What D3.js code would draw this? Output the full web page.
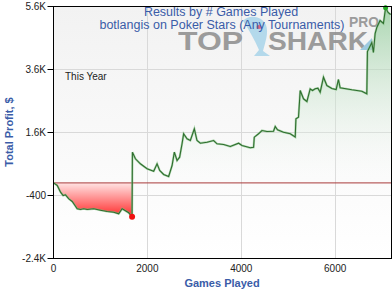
<!DOCTYPE html>
<meta charset="utf-8">
<style>
    body {
        margin: 0;
        background: #fff;
    }

    text {
        font-family: Arial, "Liberation Sans", sans-serif;
    }

    .tick-label {
        font-size: 10px;
        fill: #222;
    }

    .axis-title {
        font-size: 11px;
        font-weight: bold;
        fill: #3a5ca8;
    }

    .title {
        font-size: 12.5px;
        fill: #3a5ca8;
    }
</style>

<body>
    <script src="https://d3js.org/d3.v7.min.js"></script>

    <svg width="392" height="294"></svg>
    <script>
        // games played vs cumulative profit
        var games = [0, 80, 150, 206, 255, 326, 398, 468, 504, 574, 645, 717, 857, 1000, 1143, 1283, 1389, 1462, 1532, 1602, 1674,
            1681, 1745, 1851, 1994, 2134, 2206, 2262, 2347, 2453, 2526, 2574, 2632, 2687, 2738, 2772, 2845, 2915, 3000, 3057,
            3128, 3270, 3411, 3483, 3623, 3766, 3943, 4015, 4191, 4262, 4277, 4368, 4440, 4547, 4687, 4723, 4772, 4900, 5043,
            5149, 5164, 5219, 5255, 5326, 5398, 5468, 5517, 5574, 5632, 5681, 5751, 5823, 5930, 6021, 6070, 6106, 6355, 6568,
            6674, 6687, 6781, 6815, 6851, 6887, 6957, 7028, 7074, 7128, 7181];
        var profit = [0, -80, -295, -400, -378, -505, -590, -740, -822, -844, -822, -844, -822, -867, -908, -930, -981, -822, -886, -949, -1076,
            975, 765, 606, 448, 371, 606, 394, 267, 203, 552, 975, 711, 816, 1241, 1559, 1400, 1346, 1717, 1346,
            1260, 1292, 1346, 1241, 1219, 1156, 1260, 1187, 1114, 1133, 1451, 1559, 1663, 1632, 1641, 1790, 1686, 1610, 1559,
            1457, 2035, 2086, 2933, 2670, 2584, 2987, 2933, 2987, 3006, 2879, 3356, 3092, 2997, 2965, 3283, 3019, 2956, 2911,
            2829, 4171, 4457, 4140, 4743, 4933, 5156, 5060, 5559, 5410, 5346];

        var yTicks = [-2400, -400, 1600, 3600, 5600];
        var yTickLabels = ["-2.4K", "-400", "1.6K", "3.6K", "5.6K"];
        var xTicks = [0, 2000, 4000, 6000];
        var xTickLabels = ["0", "2000", "4000", "6000"];

        var data = games.map(function(g, i) {
            return { g: g, v: profit[i] };
        });

        var svg = d3.select("svg");
        // plot box edges (window.top is reserved, so prefix these)
        var pLeft = 53.5, pRight = 391.5, pTop = 6.5, pBottom = 258.5;

        var x = d3.scaleLinear().domain([0, 7200]).range([pLeft, pRight]);
        var y = d3.scaleLinear().domain([-2400, 5600]).range([pBottom, pTop]);

        var defs = svg.append("defs");

        var bg = defs.append("linearGradient").attr("id", "bg")
            .attr("x1", 0).attr("y1", 0).attr("x2", 0).attr("y2", 1);
        bg.append("stop").attr("offset", 0).attr("stop-color", "#f2f2f2");
        bg.append("stop").attr("offset", 1).attr("stop-color", "#ffffff");

        var green = defs.append("linearGradient").attr("id", "greenFill")
            .attr("gradientUnits", "userSpaceOnUse")
            .attr("x1", 0).attr("y1", y(5600)).attr("x2", 0).attr("y2", y(0));
        green.append("stop").attr("offset", 0).attr("stop-color", "#8fcb98").attr("stop-opacity", 0.75);
        green.append("stop").attr("offset", 1).attr("stop-color", "#ffffff").attr("stop-opacity", 0.1);

        var red = defs.append("linearGradient").attr("id", "redFill")
            .attr("gradientUnits", "userSpaceOnUse")
            .attr("x1", 0).attr("y1", y(0)).attr("x2", 0).attr("y2", y(d3.min(profit)));
        red.append("stop").attr("offset", 0).attr("stop-color", "#ffe4e4");
        red.append("stop").attr("offset", 1).attr("stop-color", "#ff2a2a");

        defs.append("clipPath").attr("id", "above").append("rect")
            .attr("x", pLeft).attr("y", pTop).attr("width", pRight - pLeft).attr("height", y(0) - pTop);
        defs.append("clipPath").attr("id", "below").append("rect")
            .attr("x", pLeft).attr("y", y(0)).attr("width", pRight - pLeft).attr("height", pBottom - y(0));

        // plot background
        svg.append("rect")
            .attr("x", pLeft).attr("y", pTop)
            .attr("width", pRight - pLeft).attr("height", pBottom - pTop)
            .attr("fill", "url(#bg)");

        // grid
        svg.selectAll(".hgrid")
            .data(yTicks.slice(1, -1))
            .enter().append("line")
            .attr("x1", pLeft).attr("x2", pRight)
            .attr("y1", function(d) { return y(d); })
            .attr("y2", function(d) { return y(d); })
            .attr("stroke", "#d9d9d9");

        svg.selectAll(".vgrid")
            .data(xTicks.slice(1))
            .enter().append("line")
            .attr("y1", pTop).attr("y2", pBottom)
            .attr("x1", function(d) { return Math.round(x(d)) + 0.5; })
            .attr("x2", function(d) { return Math.round(x(d)) + 0.5; })
            .attr("stroke", "#d9d9d9");

        // watermark
        var wm = svg.append("g").attr("opacity", 0.85);
        wm.append("text")
            .attr("x", 178).attr("y", 50)
            .attr("textLength", 65).attr("lengthAdjust", "spacingAndGlyphs")
            .style("font-size", "26px").style("font-weight", "bold")
            .attr("fill", "#8c8c8c")
            .text("TOP");
        wm.append("path")
            .attr("d", "M243,21 C249,14 262,16 266,25 C269,33 265,43 263,51 L270,56 L254,56 L259,50 C255,41 250,31 243,21 Z")
            .attr("fill", "#a9d5ea");
        wm.append("ellipse")
            .attr("cx", 259).attr("cy", 27).attr("rx", 2.5).attr("ry", 2)
            .attr("fill", "#e0506a");
        wm.append("text")
            .attr("x", 268).attr("y", 50)
            .attr("textLength", 100).attr("lengthAdjust", "spacingAndGlyphs")
            .style("font-size", "26px").style("font-weight", "bold")
            .attr("fill", "#8c8c8c")
            .text("SHARK");
        wm.append("path")
            .attr("d", "M360,50 L372,38 L372,50 Z")
            .attr("fill", "#8fc3dd");
        wm.append("text")
            .attr("x", 349).attr("y", 27)
            .attr("textLength", 30).attr("lengthAdjust", "spacingAndGlyphs")
            .style("font-size", "14px").style("font-weight", "bold")
            .attr("fill", "#8c8c8c")
            .text("PRO");

        // areas
        var area = d3.area()
            .x(function(d) { return x(d.g); })
            .y0(y(0))
            .y1(function(d) { return y(d.v); });

        svg.append("path").datum(data)
            .attr("clip-path", "url(#above)")
            .attr("fill", "url(#greenFill)")
            .attr("d", area);

        svg.append("path").datum(data)
            .attr("clip-path", "url(#below)")
            .attr("fill", "url(#redFill)")
            .attr("d", area);

        // zero line
        svg.append("line")
            .attr("x1", pLeft).attr("x2", pRight)
            .attr("y1", y(0)).attr("y2", y(0))
            .attr("stroke", "#a83a3a").attr("stroke-width", 1);

        // profit line
        var line = d3.line()
            .x(function(d) { return x(d.g); })
            .y(function(d) { return y(d.v); });

        svg.append("path").datum(data)
            .attr("fill", "none")
            .attr("stroke", "#7fbf7f")
            .attr("stroke-width", 2.2)
            .attr("stroke-opacity", 0.6)
            .attr("d", line);

        svg.append("path").datum(data)
            .attr("fill", "none")
            .attr("stroke", "#2f6e2f")
            .attr("stroke-width", 1.1)
            .attr("d", line);

        // min / max markers
        var minD = data[d3.minIndex(data, function(d) { return d.v; })];
        var maxD = data[d3.maxIndex(data, function(d) { return d.v; })];
        svg.append("circle")
            .attr("cx", x(minD.g)).attr("cy", y(minD.v)).attr("r", 3)
            .attr("fill", "#f01010");
        svg.append("circle")
            .attr("cx", x(maxD.g)).attr("cy", y(maxD.v)).attr("r", 2.5)
            .attr("fill", "#1fa81f");

        // frame
        svg.append("rect")
            .attr("x", pLeft).attr("y", pTop)
            .attr("width", pRight - pLeft).attr("height", pBottom - pTop)
            .attr("fill", "none")
            .attr("stroke", "#000");

        // y ticks
        svg.selectAll(".ytick")
            .data(yTicks)
            .enter().append("line")
            .attr("x1", pLeft - 6).attr("x2", pLeft)
            .attr("y1", function(d) { return y(d); })
            .attr("y2", function(d) { return y(d); })
            .attr("stroke", "#000");

        svg.selectAll(".ylabel")
            .data(yTicks)
            .enter().append("text")
            .attr("class", "tick-label")
            .attr("x", 46)
            .attr("y", function(d) { return y(d); })
            .attr("dy", "0.35em")
            .attr("text-anchor", "end")
            .text(function(d, i) { return yTickLabels[i]; });

        svg.selectAll(".xlabel")
            .data(xTicks)
            .enter().append("text")
            .attr("class", "tick-label")
            .attr("x", function(d) { return x(d); })
            .attr("y", 272)
            .attr("text-anchor", "middle")
            .text(function(d, i) { return xTickLabels[i]; });

        // axis titles
        svg.append("text")
            .attr("class", "axis-title")
            .attr("x", 222).attr("y", 287)
            .attr("text-anchor", "middle")
            .text("Games Played");

        svg.append("text")
            .attr("class", "axis-title")
            .attr("transform", "translate(13,132)rotate(-90)")
            .attr("text-anchor", "middle")
            .text("Total Profit, $");

        // titles
        svg.append("text")
            .attr("class", "title")
            .attr("x", 221).attr("y", 16)
            .attr("text-anchor", "middle")
            .text("Results by # Games Played");

        svg.append("text")
            .attr("class", "title")
            .attr("x", 222).attr("y", 29)
            .attr("text-anchor", "middle")
            .text("botlangis on Poker Stars (Any Tournaments)");

        svg.append("text")
            .attr("x", 65).attr("y", 80)
            .style("font-size", "10px")
            .attr("fill", "#222")
            .text("This Year");
    </script>
</body>
